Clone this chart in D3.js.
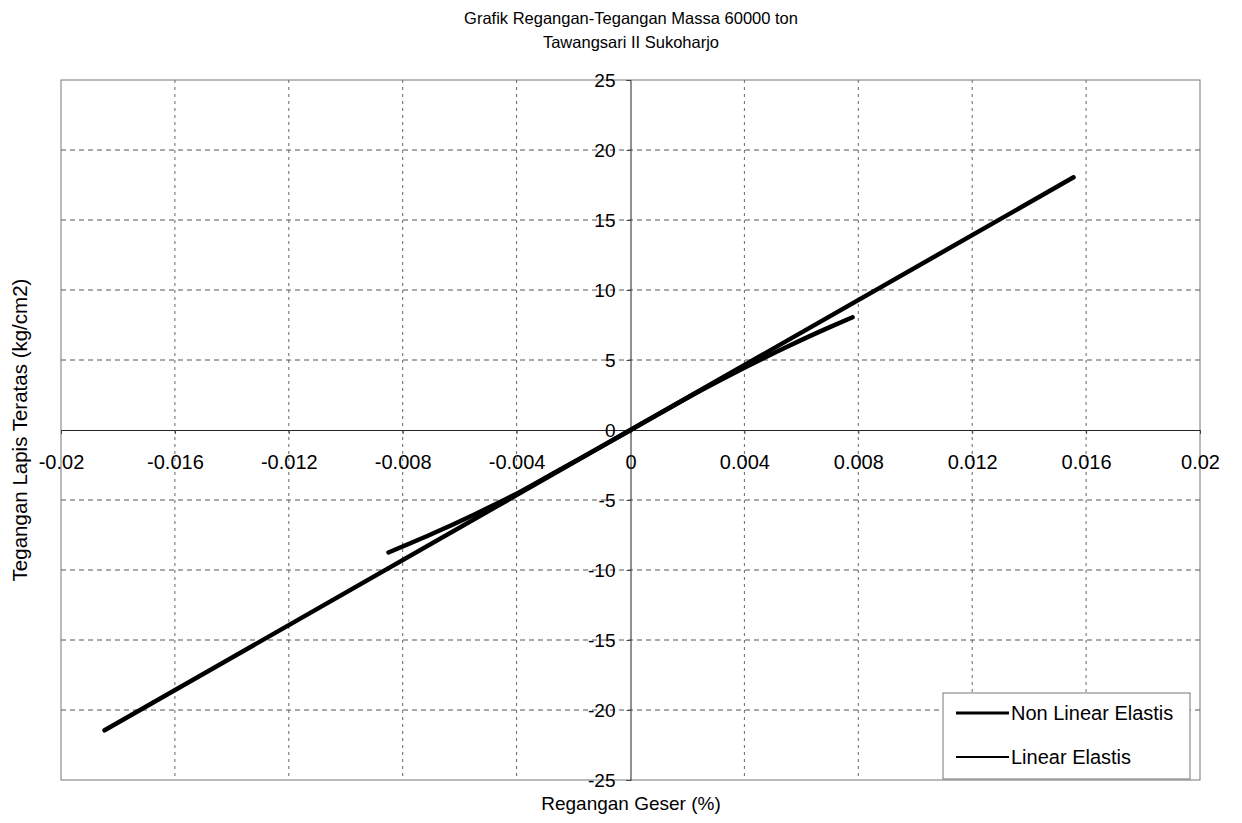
<!DOCTYPE html>
<html>
<head>
<meta charset="utf-8">
<script src="https://cdn.jsdelivr.net/npm/d3@7"></script>
<style>
  html, body { margin: 0; padding: 0; background: #fff; }
  svg { display: block; font-family: "Liberation Sans", Arial, sans-serif; }
</style>
</head>
<body>
<svg id="chart" width="1242" height="823"></svg>
<script>
// ---- data ----
const titleLines = ["Grafik Regangan-Tegangan Massa 60000 ton", "Tawangsari II Sukoharjo"];
const xTitle = "Regangan Geser (%)";
const yTitle = "Tegangan  Lapis Teratas (kg/cm2)";
const xTicks = [-0.02, -0.016, -0.012, -0.008, -0.004, 0, 0.004, 0.008, 0.012, 0.016, 0.02];
const xTickLabels = ["-0.02", "-0.016", "-0.012", "-0.008", "-0.004", "0", "0.004", "0.008", "0.012", "0.016", "0.02"];
const yTicks = [-25, -20, -15, -10, -5, 0, 5, 10, 15, 20, 25];
const yTickLabels = ["-25", "-20", "-15", "-10", "-5", "0", "5", "10", "15", "20", "25"];
const seriesNames = ["Non Linear Elastis", "Linear Elastis"];
// Non linear elastis
const nonLinX = [-0.0085, -0.0070, -0.0055, -0.0040, -0.0025, -0.0010, 0, 0.0010, 0.0025, 0.0040, 0.0055, 0.0070, 0.0078];
const nonLinY = [-8.75, -7.45, -6.05, -4.55, -2.85, -1.15, 0, 1.15, 2.85, 4.45, 5.95, 7.35, 8.05];
// Linear elastis
const linX = [-0.01847, 0, 0.01556];
const linY = [-21.45, 0, 18.05];

// ---- layout ----
const svg = d3.select("#chart");
const L = 61, R = 1200, T = 80, B = 780;
const x = d3.scaleLinear().domain([-0.02, 0.02]).range([L, R]);
const y = d3.scaleLinear().domain([-25, 25]).range([B, T]);

// gridlines
const g = svg.append("g");
g.selectAll("line.vg").data(xTicks.filter(v => v !== 0 && Math.abs(v) < 0.02)).join("line")
  .attr("x1", d => x(d)).attr("x2", d => x(d)).attr("y1", T).attr("y2", B)
  .attr("stroke", "#666").attr("stroke-width", 1).attr("stroke-dasharray", "3,4");
g.selectAll("line.hg").data(yTicks.filter(v => v !== 0 && Math.abs(v) < 25)).join("line")
  .attr("x1", L).attr("x2", R).attr("y1", d => y(d)).attr("y2", d => y(d))
  .attr("stroke", "#555").attr("stroke-width", 1).attr("stroke-dasharray", "5,4");

// plot border
svg.append("rect").attr("x", L).attr("y", T).attr("width", R - L).attr("height", B - T)
  .attr("fill", "none").attr("stroke", "#777").attr("stroke-width", 1);

// axes through origin
const xAxis = d3.axisBottom(x).tickValues(xTicks).tickSize(4).tickFormat((d, i) => xTickLabels[i]);
const yAxis = d3.axisLeft(y).tickValues(yTicks).tickSize(4).tickFormat((d, i) => yTickLabels[i]);
const gx = svg.append("g").attr("transform", `translate(0,${y(0)})`).call(xAxis);
gx.select(".domain").attr("stroke", "#222");
gx.selectAll(".tick line").attr("stroke", "#444");
gx.selectAll(".tick text").attr("font-size", 20).attr("fill", "#000").attr("dy", "1.6em")
  .attr("font-family", "Liberation Sans, Arial, sans-serif");
const gy = svg.append("g").attr("transform", `translate(${x(0)},0)`).call(yAxis);
gy.select(".domain").attr("stroke", "#222");
gy.selectAll(".tick line").attr("stroke", "#444");
gy.selectAll(".tick text").attr("font-size", 19).attr("fill", "#000").attr("x", -15)
  .attr("font-family", "Liberation Sans, Arial, sans-serif");

// lines
const lineGen = d3.line().x(d => x(d[0])).y(d => y(d[1]));
const linData = linX.map((v, i) => [v, linY[i]]);
const nonLinData = nonLinX.map((v, i) => [v, nonLinY[i]]);
svg.append("path").datum(linData).attr("d", lineGen)
  .attr("fill", "none").attr("stroke", "#000").attr("stroke-width", 4.5).attr("stroke-linecap", "round");
svg.append("path").datum(nonLinData).attr("d", d3.line().curve(d3.curveMonotoneX).x(d => x(d[0])).y(d => y(d[1])))
  .attr("fill", "none").attr("stroke", "#000").attr("stroke-width", 4.5).attr("stroke-linecap", "round");

// titles
svg.append("g").selectAll("text").data(titleLines).join("text")
  .attr("x", 631).attr("y", (d, i) => 24 + i * 24)
  .attr("text-anchor", "middle").attr("font-size", 16.5).text(d => d);
svg.append("text").attr("x", 631).attr("y", 810).attr("text-anchor", "middle")
  .attr("font-size", 19).text(xTitle);
svg.append("text").attr("transform", "translate(27,430) rotate(-90)").attr("text-anchor", "middle")
  .attr("font-size", 20.5).text(yTitle);

// legend
const lg = svg.append("g");
lg.append("rect").attr("x", 943).attr("y", 693).attr("width", 247).attr("height", 86)
  .attr("fill", "#fff").attr("stroke", "#777").attr("stroke-width", 1);
const ly = [713, 757];
const lw = [3, 2];
lg.selectAll("line").data(seriesNames).join("line")
  .attr("x1", 956).attr("x2", 1009).attr("y1", (d, i) => ly[i]).attr("y2", (d, i) => ly[i])
  .attr("stroke", "#000").attr("stroke-width", (d, i) => lw[i]);
lg.selectAll("text").data(seriesNames).join("text")
  .attr("x", 1011).attr("y", (d, i) => ly[i] + 7).attr("font-size", 20).text(d => d);
</script>
</body>
</html>
